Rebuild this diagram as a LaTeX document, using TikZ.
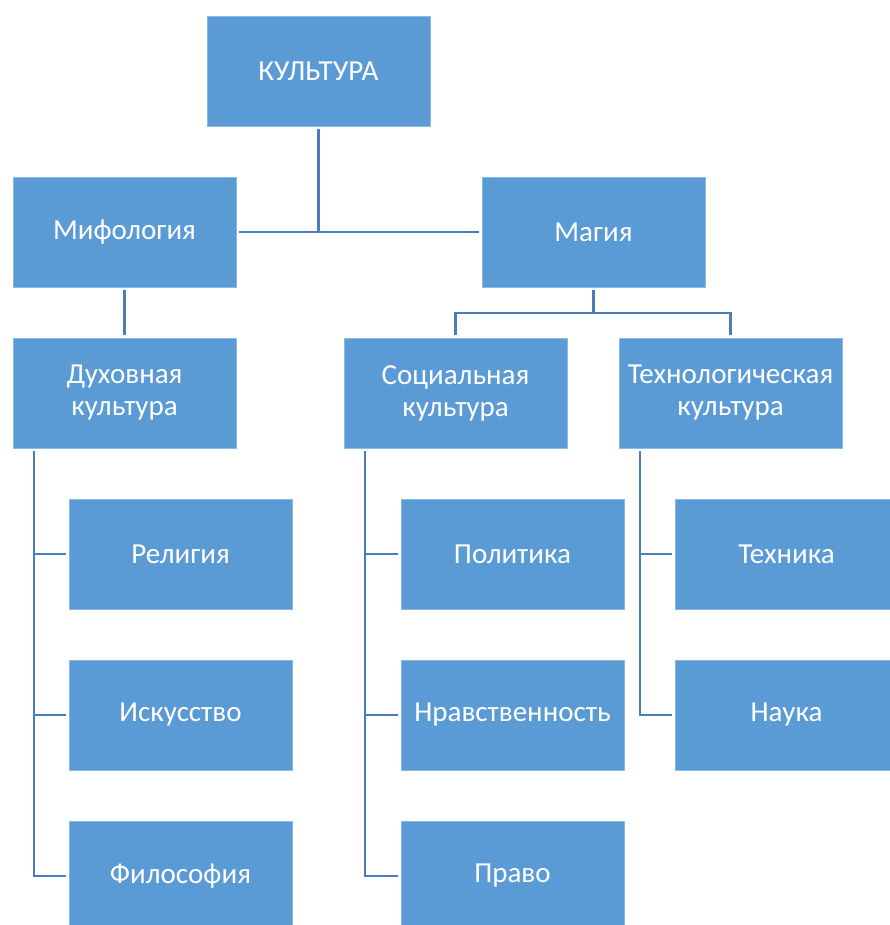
\documentclass[tikz,border=0pt]{standalone}
\usepackage{fontspec}
\setmainfont{Carlito}
\definecolor{boxblue}{HTML}{5B9BD5}
\definecolor{lineblue}{HTML}{4A7EBB}
\begin{document}
\begin{tikzpicture}[x=1pt,y=-1pt,font=\fontsize{29}{32}\selectfont,
  box/.style={fill=boxblue,draw=boxblue!70!white,line width=.6pt,minimum width=223pt,minimum height=110pt,
    text=white,align=center,inner sep=2pt,outer sep=3pt},
  link/.style={draw=lineblue,line width=2.6pt}]
\useasboundingbox(0,0)rectangle(890,925);
\node[box](kult)at(318.5,71){КУЛЬТУРА};
\node[box](mif)at(124.5,232){Мифология};\node[box](mag)at(593.5,232){Магия};
\node[box](duh)at(124.5,393){Духовная\\культура};\node[box](soc)at(455.5,393){Социальная\\культура};
\node[box](tech)at(730.5,393){Технологическая\\культура};
\node[box](rel)at(180.5,554){Религия};\node[box](isk)at(180.5,715){Искусство};\node[box](fil)at(180.5,876){Философия};
\node[box](pol)at(512.5,554){Политика};\node[box](nrav)at(512.5,715){Нравственность};\node[box](prav)at(512.5,876){Право};
\node[box](tekh)at(786.5,554){Техника};\node[box](nauk)at(786.5,715){Наука};
\draw[link](mif.east)--(mag.west) (kult.south)--(kult.south|-mif.east);
\draw[link](mif.south)--(duh.north);
\draw[link](mag.south)--++(0,23)-|(soc.north) (mag.south)++(0,23)-|(tech.north);
\foreach\p/\c in{duh/rel,duh/isk,duh/fil,soc/pol,soc/nrav,soc/prav,tech/tekh,tech/nauk}{\draw[link]([xshift=24]\p.south west)|-(\c.west);}
\end{tikzpicture}
\end{document}
